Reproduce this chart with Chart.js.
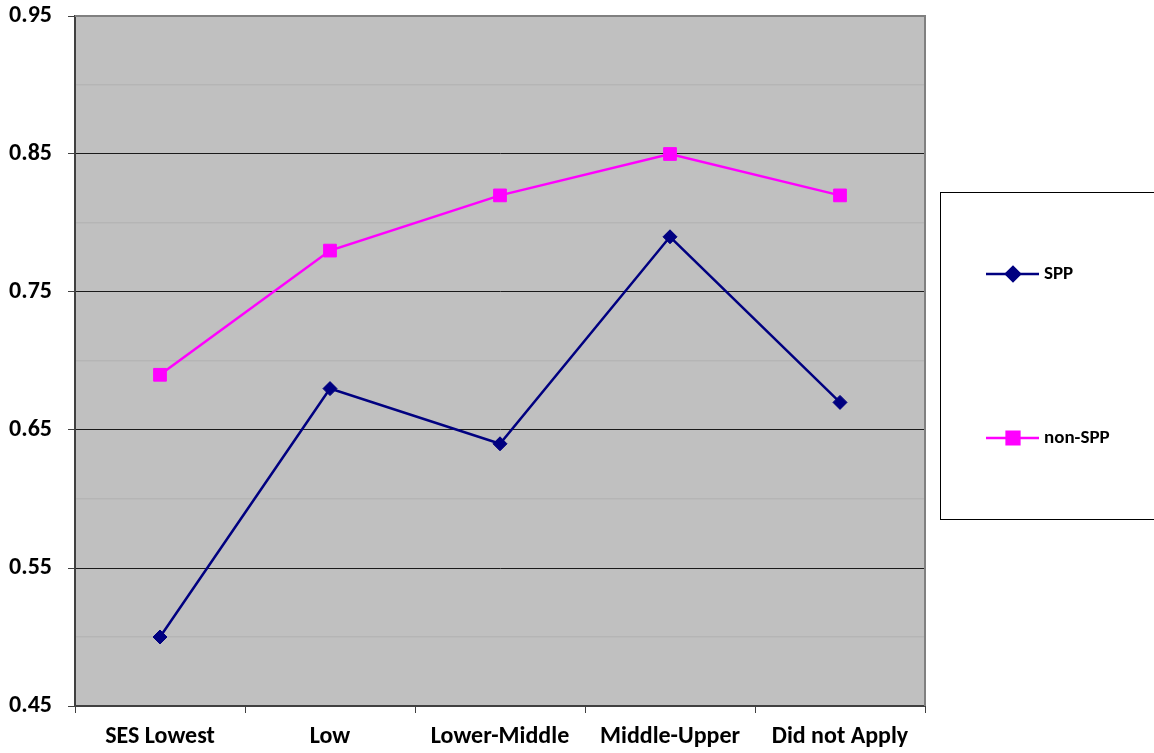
<!DOCTYPE html>
<html>
<head>
<meta charset="utf-8">
<script src="https://cdn.jsdelivr.net/npm/chart.js@4.4.0/dist/chart.umd.min.js"></script>
<style>
  body { margin: 0; background: #fff; }
  #wrap { width: 1154px; height: 753px; }
</style>
</head>
<body>
<div id="wrap"><canvas id="ses-chart" width="1154" height="753"></canvas></div>
<script>
var categories = ['SES Lowest', 'Low', 'Lower-Middle', 'Middle-Upper', 'Did not Apply'];
var sppValues = [0.50, 0.68, 0.64, 0.79, 0.67];
var nonSppValues = [0.69, 0.78, 0.82, 0.85, 0.82];
var yTickLabels = ['0.45', '0.55', '0.65', '0.75', '0.85', '0.95'];

var FONT = 'Calibri, Carlito, Lato, sans-serif';

function isMajor(v) {
    var n = Math.round(v * 100);
    return yTickLabels.indexOf((n / 100).toFixed(2)) !== -1;
}

// grey plot background, top/right frame and the boxed legend
var plotFrame = {
    id: 'plotFrame',
    beforeDraw: function(chart) {
        var a = chart.chartArea, ctx = chart.ctx;
        ctx.save();
        ctx.fillStyle = '#c0c0c0';
        ctx.fillRect(a.left, a.top, a.right - a.left, a.bottom - a.top);
        ctx.restore();
    },
    afterDraw: function(chart) {
        var a = chart.chartArea, ctx = chart.ctx;
        ctx.save();
        ctx.strokeStyle = '#808080';
        ctx.lineWidth = 2;
        ctx.beginPath();
        ctx.moveTo(a.left, a.top);
        ctx.lineTo(a.right, a.top);
        ctx.lineTo(a.right, a.bottom);
        ctx.stroke();

        // legend box
        ctx.strokeStyle = '#000';
        ctx.lineWidth = 1;
        ctx.strokeRect(940.5, 192.5, 240, 327);
        var rows = [274, 438];
        chart.data.datasets.forEach(function(ds, i) {
            var y = rows[i];
            ctx.strokeStyle = ds.borderColor;
            ctx.lineWidth = 2.5;
            ctx.beginPath();
            ctx.moveTo(986, y);
            ctx.lineTo(1039, y);
            ctx.stroke();
            ctx.fillStyle = ds.pointBackgroundColor;
            ctx.strokeStyle = ds.borderColor;
            Chart.helpers.drawPoint(ctx, {
                pointStyle: ds.pointStyle,
                radius: ds.pointRadius,
                rotation: 0,
                borderWidth: 1
            }, 1013, y);
            ctx.fillStyle = '#000';
            ctx.font = 'bold 19px ' + FONT;
            ctx.textBaseline = 'middle';
            ctx.textAlign = 'left';
            ctx.fillText(ds.label, 1044, y);
        });
        ctx.restore();
    }
};

var ctx = document.getElementById('ses-chart');
var sesChart = new Chart(ctx, {
    type: 'line',
    data: {
        labels: categories,
        datasets: [
            {
                label: 'SPP',
                data: sppValues,
                borderColor: '#000080',
                backgroundColor: '#000080',
                pointBackgroundColor: '#000080',
                pointBorderColor: '#000080',
                borderWidth: 2.5,
                pointStyle: 'rectRot',
                pointRadius: 7,
                pointBorderWidth: 1,
                tension: 0
            },
            {
                label: 'non-SPP',
                data: nonSppValues,
                borderColor: '#ff00ff',
                backgroundColor: '#ff00ff',
                pointBackgroundColor: '#ff00ff',
                pointBorderColor: '#ff00ff',
                borderWidth: 2.5,
                pointStyle: 'rect',
                pointRadius: 9,
                pointBorderWidth: 1,
                tension: 0
            }
        ]
    },
    options: {
        responsive: false,
        animation: false,
        layout: { padding: { top: 16, right: 229, left: 0, bottom: 0 } },
        plugins: {
            legend: { display: false },
            tooltip: { enabled: false }
        },
        scales: {
            x: {
                offset: true,
                afterFit: function(scale) {
                    scale.height = 47;
                    scale.paddingLeft = 0;
                    scale.paddingRight = 0;
                },
                grid: {
                    offset: true,
                    drawOnChartArea: false,
                    drawTicks: true,
                    tickLength: 7,
                    tickColor: '#404040',
                    tickWidth: 1
                },
                border: { color: '#404040', width: 2 },
                ticks: {
                    color: '#000',
                    padding: 10,
                    maxRotation: 0,
                    autoSkip: false,
                    font: { family: FONT, size: 24, weight: 'bold' }
                }
            },
            y: {
                min: 0.45,
                max: 0.95,
                afterFit: function(scale) {
                    scale.width = 75;
                    scale.paddingTop = 0;
                    scale.paddingBottom = 0;
                },
                grid: {
                    color: function(c) {
                        var v = c.tick.value;
                        if (Math.abs(v - 0.95) < 0.001) return '#808080';
                        if (Math.abs(v - 0.45) < 0.001) return 'rgba(0,0,0,0)';
                        return isMajor(v) ? '#1a1a1a' : '#b5b5b5';
                    },
                    lineWidth: function(c) { return isMajor(c.tick.value) ? 1 : 1.5; },
                    tickLength: 7,
                    tickColor: function(c) { return isMajor(c.tick.value) ? '#404040' : 'rgba(0,0,0,0)'; }
                },
                border: { color: '#404040', width: 2 },
                ticks: {
                    stepSize: 0.05,
                    color: '#000',
                    padding: 16,
                    font: { family: FONT, size: 24, weight: 'bold' },
                    callback: function(v) {
                        return isMajor(v) ? (Math.round(v * 100) / 100).toFixed(2) : '';
                    }
                }
            }
        }
    },
    plugins: [plotFrame]
});
</script>
</body>
</html>
